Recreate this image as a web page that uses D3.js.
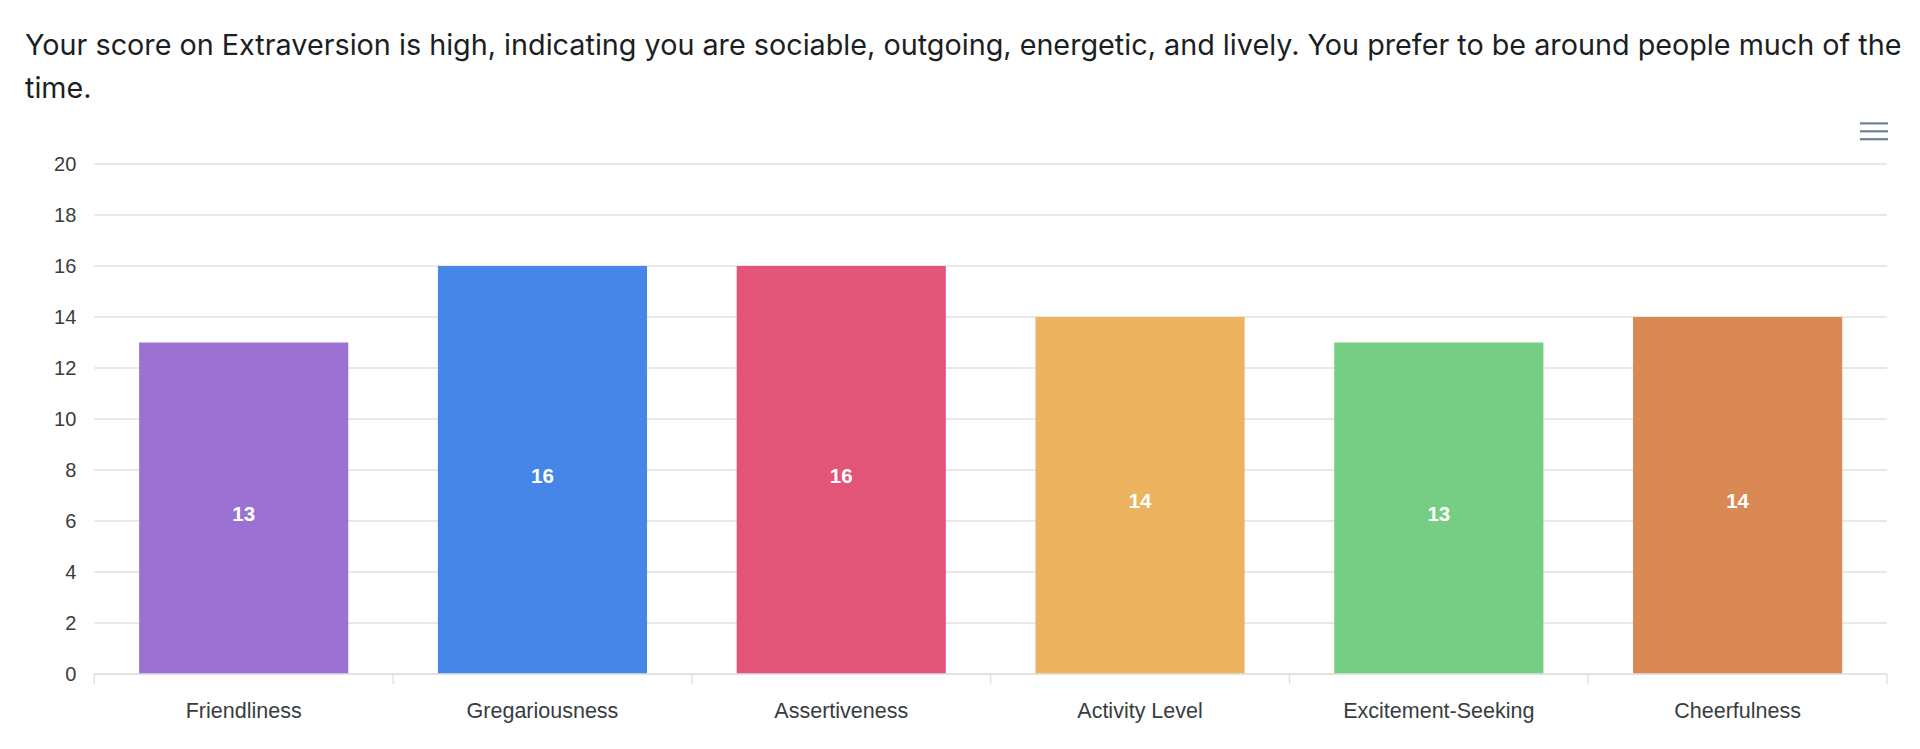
<!DOCTYPE html>
<html>
<head>
<meta charset="utf-8">
<script src="https://cdn.jsdelivr.net/npm/d3@7"></script>
<style>
  html, body { margin: 0; padding: 0; background: #fff; }
  svg { display: block; }
</style>
</head>
<body>
<svg id="chart" width="1920" height="749"></svg>
<script>
const titleLines = [
  "Your score on Extraversion is high, indicating you are sociable, outgoing, energetic, and lively. You prefer to be around people much of the",
  "time."
];
const categories = ["Friendliness", "Gregariousness", "Assertiveness", "Activity Level", "Excitement-Seeking", "Cheerfulness"];
const values = [13, 16, 16, 14, 13, 14];
const colors = ["#9B72D3", "#4686E9", "#E35479", "#ECB460", "#76CD84", "#DA8954"];
const yTicks = [0, 2, 4, 6, 8, 10, 12, 14, 16, 18, 20];

const svg = d3.select("#chart");
const plotLeft = 94.3, plotRight = 1887, plotTop = 164, plotBottom = 674;

// Title text
svg.append("g").selectAll("text").data(titleLines).join("text")
  .attr("x", 25)
  .attr("y", (d, i) => 55 + i * 43.3)
  .attr("font-family", "Inter, 'Noto Sans', sans-serif")
  .attr("font-size", 28.75)
  .attr("fill", "#1b1f24")
  .text(d => d);

const x = d3.scaleBand().domain(categories).range([plotLeft, plotRight]).padding(0);
const y = d3.scaleLinear().domain([0, 20]).range([plotBottom, plotTop]);

// gridlines
svg.append("g").selectAll("line").data(yTicks).join("line")
  .attr("x1", plotLeft).attr("x2", plotRight)
  .attr("y1", d => y(d)).attr("y2", d => y(d))
  .attr("stroke", "#e0e0e0").attr("stroke-width", 1.3);

// y axis labels
const yAxis = d3.axisLeft(y).tickValues(yTicks).tickSize(0).tickPadding(18);
const yg = svg.append("g").attr("transform", `translate(${plotLeft},0)`).call(yAxis);
yg.select(".domain").remove();
yg.selectAll("text")
  .attr("font-family", "'Liberation Sans', Arial, Helvetica, sans-serif")
  .attr("font-size", 20).attr("fill", "#373d3f");

// bars
const bw = x.bandwidth();
svg.append("g").selectAll("rect").data(values).join("rect")
  .attr("x", (d, i) => x(categories[i]) + bw * 0.15)
  .attr("width", bw * 0.7)
  .attr("y", d => y(d))
  .attr("height", d => y(0) - y(d))
  .attr("fill", (d, i) => colors[i]);

// bar labels
svg.append("g").selectAll("text").data(values).join("text")
  .attr("x", (d, i) => x(categories[i]) + bw / 2)
  .attr("y", d => (y(d) + y(0)) / 2 + 12.5)
  .attr("text-anchor", "middle")
  .attr("font-family", "'Liberation Sans', Arial, Helvetica, sans-serif")
  .attr("font-weight", "bold")
  .attr("font-size", 20.5)
  .attr("fill", "#ffffff")
  .text(d => d);

// x axis
const xAxis = d3.axisBottom(x).tickSize(0).tickPadding(0);
const xg = svg.append("g").attr("transform", `translate(0,${plotBottom})`).call(xAxis);
xg.select(".domain").attr("stroke", "#e0e0e0").attr("stroke-width", 1.3).attr("d", `M${plotLeft},0H${plotRight}`);
xg.selectAll("text")
  .attr("y", 44).attr("dy", null)
  .attr("font-family", "'Liberation Sans', Arial, Helvetica, sans-serif")
  .attr("font-size", 21.5).attr("fill", "#373d3f");
// band boundary ticks
const boundaries = categories.map(c => x(c)).concat([plotRight]);
svg.append("g").selectAll("line").data(boundaries).join("line")
  .attr("x1", d => d).attr("x2", d => d)
  .attr("y1", plotBottom).attr("y2", plotBottom + 10)
  .attr("stroke", "#e0e0e0").attr("stroke-width", 1.3);

// menu icon
svg.append("g").selectAll("rect").data([0, 1, 2]).join("rect")
  .attr("x", 1860).attr("width", 28)
  .attr("y", d => 122.3 + d * 7.9).attr("height", 2.2)
  .attr("fill", "#6E8192");
</script>
</body>
</html>
